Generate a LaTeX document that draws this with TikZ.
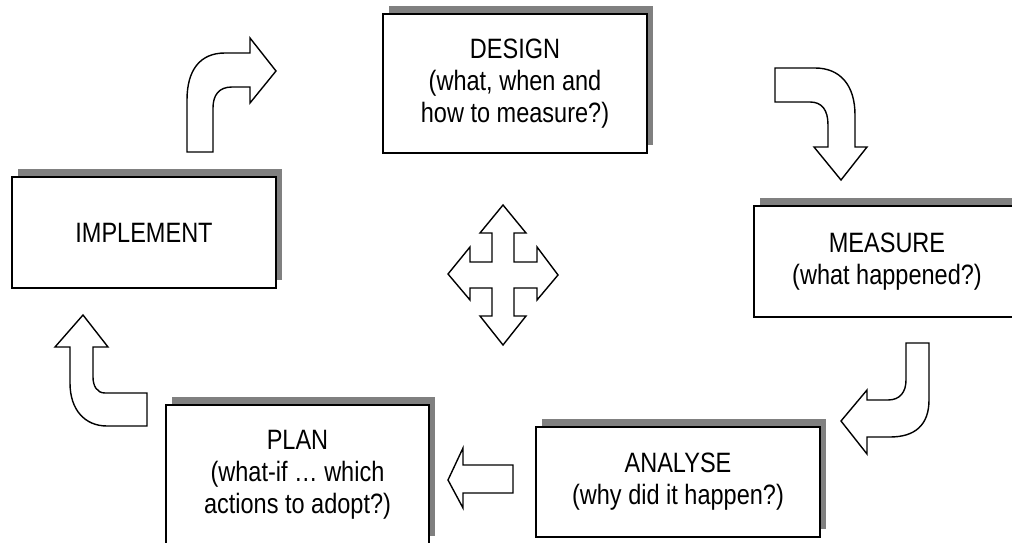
\documentclass[tikz,border=0pt]{standalone}
\usepackage{fontspec}
\setmainfont{Liberation Sans}[FakeStretch=0.84]
\usetikzlibrary{shadows}

\begin{document}
\begin{tikzpicture}[x=1pt, y=-1pt,
                    stage/.style={draw, line width=1.6pt, fill=white, align=center, inner sep=0pt,
                                  font=\fontsize{28pt}{32pt}\selectfont,
                                  drop shadow={shadow xshift=6pt, shadow yshift=8pt, fill=black!50, opacity=1}},
                    blockarrow/.style={draw, line width=1.4pt, fill=white, line join=miter}
]
\useasboundingbox (0,0) rectangle (1012,543);
%
\node [stage, minimum width=264pt, minimum height=139pt] at (515,83.5) (design)
      {DESIGN\\(what, when and\\how to measure?)};
\node [stage, minimum width=264pt, minimum height=111pt] at (144,232.5) (implement) {IMPLEMENT};
\node [stage, minimum width=266pt, minimum height=111pt] at (887,261.5) (measure)
      {MEASURE\\(what happened?)};
\node [stage, minimum width=284pt, minimum height=110pt] at (678,482) (analyse)
      {ANALYSE\\(why did it happen?)};
\node [stage, minimum width=263pt, minimum height=139pt] at (297.5,474.5) (plan)
      {PLAN\\(what-if \dots\ which\\actions to adopt?)};
%
% implement -> design
\draw [blockarrow] (187,152) -- (187,100) .. controls (187,70) and (200,53) .. (225,53) -- (250,53)
      -- (250,38) -- (276,71) -- (250,103) -- (250,87) -- (232,87)
      .. controls (219,87) and (213,95) .. (213,108) -- (213,152) -- cycle;
% design -> measure
\draw [blockarrow] (775,68) -- (815,68) .. controls (840,68) and (855,85) .. (855,115) -- (855,147)
      -- (867,147) -- (841,180) -- (814,147) -- (828,147) -- (828,125)
      .. controls (828,110) and (822,102) .. (810,102) -- (775,102) -- cycle;
% measure -> analyse
\draw [blockarrow] (906,343) -- (929,343) -- (929,400) .. controls (929,425) and (915,437) .. (890,437)
      -- (867,437) -- (867,454) -- (841,421) -- (867,390) -- (867,400) -- (888,400)
      .. controls (900,400) and (906,392) .. (906,380) -- cycle;
% analyse -> plan
\draw [blockarrow] (513,465) -- (513,493) -- (463,493) -- (463,508) -- (448,480)
      -- (463,448) -- (463,465) -- cycle;
% plan -> implement
\draw [blockarrow] (147,393) -- (147,426) -- (107,426) .. controls (85,426) and (70,410) .. (70,383)
      -- (70,347) -- (55,347) -- (83,315) -- (108,347) -- (93,347) -- (93,377)
      .. controls (93,386) and (97,393) .. (105,393) -- cycle;
% centre
\draw [blockarrow] (503,205) -- (526,233) -- (514,233) -- (514,262) -- (537,262) -- (537,247)
      -- (558,275) -- (537,300) -- (537,288) -- (514,288) -- (514,316) -- (526,316)
      -- (503,345) -- (480,316) -- (492,316) -- (492,288) -- (470,288) -- (470,300)
      -- (448,274) -- (470,247) -- (470,262) -- (492,262) -- (492,233) -- (480,233) -- cycle;
\end{tikzpicture}
\end{document}
